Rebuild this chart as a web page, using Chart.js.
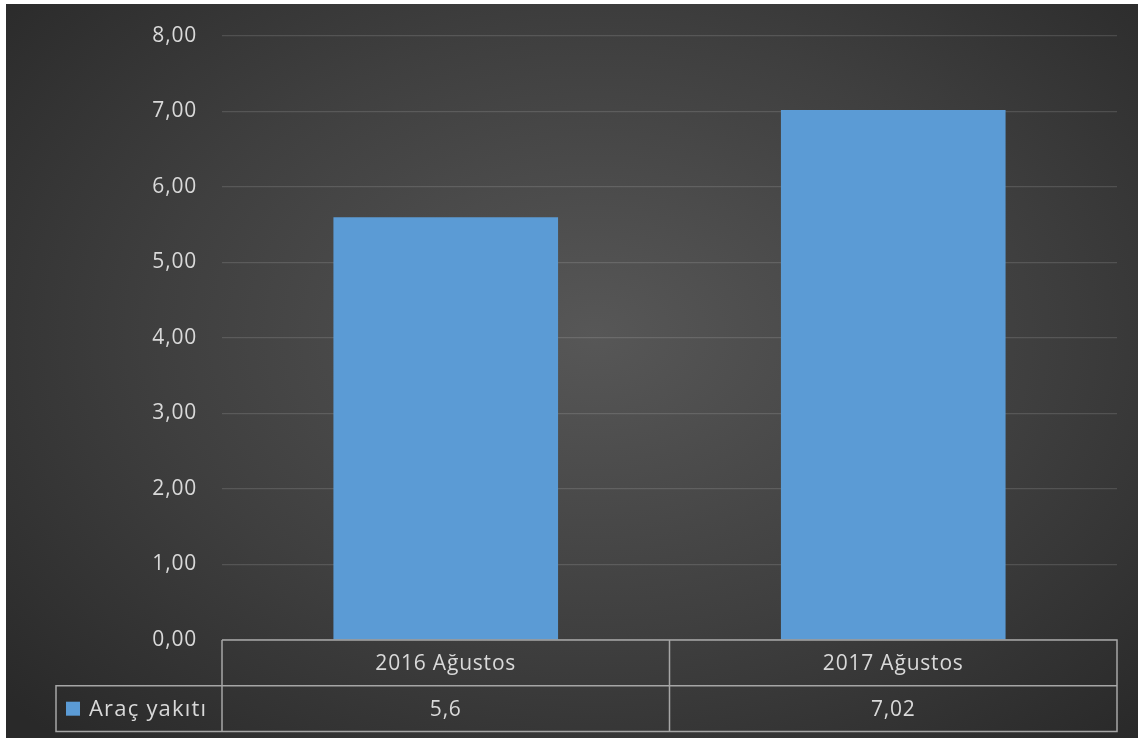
<!DOCTYPE html>
<html>
<head>
<meta charset="utf-8">
<script src="https://cdn.jsdelivr.net/npm/chart.js@4"></script>
<style>
    html, body {
        margin: 0;
        padding: 0;
        background: #ffffff;
        width: 1138px;
        height: 738px;
        overflow: hidden;
    }

    #panel {
        position: absolute;
        left: 6px;
        top: 4px;
        width: 1132px;
        height: 734px;
        background: radial-gradient(ellipse 70% 75% at 52% 45%, #575757 0%, #3f3f3f 55%, #292929 100%);
    }
</style>
</head>
<body>

<div id="panel">
    <canvas id="fuelChart"></canvas>
</div>

<script>
// ======================================
// Data
// ======================================

const categories = ["2016 Ağustos", "2017 Ağustos"];

const seriesName = "Araç yakıtı";

const fuelValues = [5.6, 7.02];

const fuelLabels = ["5,6", "7,02"];

const yMin = 0;
const yMax = 8;
const yStep = 1;

// ======================================
// Styles
// ======================================

const textColor = "#d9d9d9";
const barColor = "#5b9bd5";
const tableLine = "#a6a6a6";
const fontFamily = "'Open Sans', 'Noto Sans', sans-serif";
const fontSize = 21;
const spacing = "0.8px";

const rowHeight = 45.7;
const legendLeft = 50;

// ======================================
// Letter spacing for all canvas text
// ======================================

const spacingPlugin = {

    id: "spacing",

    beforeDraw(chart) {
        chart.ctx.letterSpacing = spacing;
    }
};

// ======================================
// Data table plugin (Excel style)
// ======================================

const dataTablePlugin = {

    id: "dataTable",

    afterDraw(chart) {

        const ctx = chart.ctx;
        const area = chart.chartArea;
        const x = chart.scales.x;

        const top = area.bottom;
        const mid = top + rowHeight;
        const bottom = mid + rowHeight;

        // column edges from the category scale
        const edges = [area.left];
        for (let i = 0; i < categories.length - 1; i++) {
            edges.push((x.getPixelForValue(i) + x.getPixelForValue(i + 1)) / 2);
        }
        edges.push(area.right);

        ctx.save();

        ctx.letterSpacing = spacing;
        ctx.strokeStyle = tableLine;
        ctx.lineWidth = 1.5;

        // outer box of category + value rows
        ctx.beginPath();
        ctx.moveTo(area.left, top);
        ctx.lineTo(area.right, top);
        ctx.lineTo(area.right, bottom);
        ctx.lineTo(legendLeft, bottom);
        ctx.lineTo(legendLeft, mid);
        ctx.lineTo(area.right, mid);
        edges.forEach(e => {
            ctx.moveTo(e, top);
            ctx.lineTo(e, bottom);
        });
        ctx.stroke();

        ctx.font = fontSize + "px " + fontFamily;
        ctx.fillStyle = textColor;
        ctx.textAlign = "center";
        ctx.textBaseline = "middle";

        categories.forEach((c, i) => {
            const cx = x.getPixelForValue(i);
            ctx.fillText(c, cx, top + rowHeight / 2 + 1);
            ctx.fillText(fuelLabels[i], cx, mid + rowHeight / 2 + 1);
        });

        // legend key
        ctx.fillStyle = barColor;
        ctx.fillRect(legendLeft + 10, mid + 16, 14, 14);

        ctx.fillStyle = textColor;
        ctx.textAlign = "left";
        ctx.font = "22px " + fontFamily;
        ctx.letterSpacing = "1.2px";
        ctx.fillText(seriesName, legendLeft + 33, mid + rowHeight / 2 + 1);

        ctx.restore();
    }
};

// ======================================
// Chart
// ======================================

const ctx = document
    .getElementById("fuelChart")
    .getContext("2d");

const fuelChart = new Chart(ctx, {

    type: "bar",

    data: {

        labels: categories,

        datasets: [{

            label: seriesName,

            data: fuelValues,

            backgroundColor: barColor,

            categoryPercentage: 1,

            barPercentage: 0.502

        }]
    },

    options: {

        responsive: true,

        animation: false,

        maintainAspectRatio: false,

        layout: {

            padding: { top: 32, right: 21, bottom: 98, left: 0 }

        },

        plugins: {

            legend: { display: false },

            tooltip: { enabled: false }

        },

        scales: {

            x: {

                display: false

            },

            y: {

                min: yMin,

                max: yMax,

                afterFit(scale) {
                    scale.width = 216;
                    scale.paddingTop = 0;
                    scale.paddingBottom = 0;
                },

                ticks: {

                    stepSize: yStep,

                    color: textColor,

                    padding: 25,

                    font: { family: fontFamily, size: fontSize },

                    callback: v => v.toFixed(2).replace(".", ",")

                },

                border: { display: false },

                grid: {

                    color: "rgba(255,255,255,0.13)",

                    lineWidth: 1.2,

                    drawTicks: false

                }

            }

        }

    },

    plugins: [spacingPlugin, dataTablePlugin]

});
</script>

</body>
</html>
